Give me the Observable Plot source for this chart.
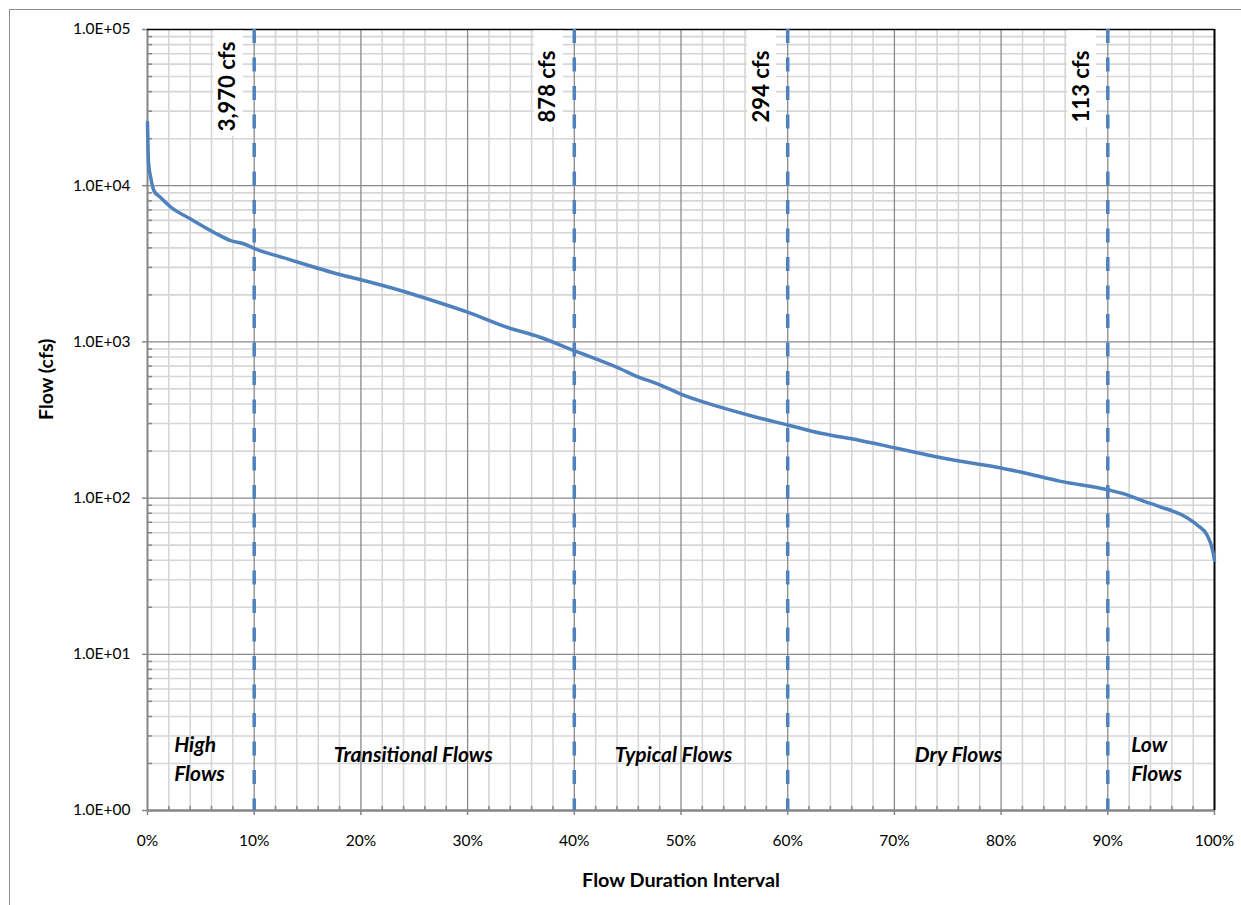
<!DOCTYPE html>
<html><head><meta charset="utf-8">
<script src="https://cdn.jsdelivr.net/npm/d3@7"></script>
<script src="https://cdn.jsdelivr.net/npm/@observablehq/plot@0.6"></script>
<style>
html,body{margin:0;padding:0;background:#fff;overflow:hidden;width:1241px;height:905px;}
#frame{position:absolute;left:9px;top:9px;width:1300px;height:1000px;border:1.5px solid #8e8e8e;box-sizing:border-box;}
#chart{position:absolute;left:0;top:0;}
</style></head><body><div id="frame"></div><div id="chart"></div>
<script>
// Flow duration curve (percent of time exceeded vs flow in cfs)
const pct  = [0, 0.1, 0.3, 0.6, 1.2, 2.2, 4.0, 6.2, 7.8, 9.0, 10, 13.1, 18.1, 20, 23.7, 26.5, 30, 33.7, 36.8, 40, 44.3, 45.9, 47.8, 50.1, 53.7, 56.8, 60, 63.1, 66.8, 70, 73.1, 76.2, 80, 81.8, 85.6, 90, 91.8, 93.1, 94.9, 97.1, 98.4, 99.3, 99.8, 100];
const flow = [25500, 13900, 11300, 9300, 8430, 7280, 6140, 5040, 4450, 4250, 3970, 3400, 2690, 2500, 2135, 1862, 1550, 1241, 1071, 878, 673, 600, 539, 460, 382, 333, 294, 260, 234, 210, 189, 172, 156, 147, 128, 113, 105, 97, 88, 77, 67, 58, 47, 40];

const thresholds = [10, 40, 60, 90];
const thresholdLabels = ["3,970 cfs", "878 cfs", "294 cfs", "113 cfs"];

const regionNames = ["High\nFlows", "Transitional Flows", "Typical Flows", "Dry Flows", "Low\nFlows"];
const regionX = [2.5, 24.9, 49.3, 76.0, 92.2];
const regionAlign = ["start", "middle", "middle", "middle", "start"];

const xTicks = [0, 10, 20, 30, 40, 50, 60, 70, 80, 90, 100];
const xTickLabels = ["0%", "10%", "20%", "30%", "40%", "50%", "60%", "70%", "80%", "90%", "100%"];
const xMinor = [2,4,6,8,12,14,16,18,22,24,26,28,32,34,36,38,42,44,46,48,52,54,56,58,62,64,66,68,72,74,76,78,82,84,86,88,92,94,96,98];
const yTicks = [1, 10, 100, 1000, 10000, 100000];
const yTickLabels = ["1.0E+00", "1.0E+01", "1.0E+02", "1.0E+03", "1.0E+04", "1.0E+05"];
const yMinor = [];
for (const d of [1, 10, 100, 1000, 10000]) for (let k = 2; k <= 9; k++) yMinor.push(k * d);

const data = pct.map((p, i) => ({pct: p, flow: flow[i]}));
const thr = thresholds.map((t, i) => ({t, label: thresholdLabels[i]}));
const regions = regionNames.map((n, i) => ({name: n, x: regionX[i], align: regionAlign[i]}));

const blue = "#4F81BD";
const font = "Lato, 'Open Sans', sans-serif";
const labelDx = -26, labelDy = 57;
const plotTop = 29;

const chart = Plot.plot({
  width: 1241, height: 905,
  marginLeft: 147, marginRight: 27, marginTop: plotTop, marginBottom: 95,
  style: {fontFamily: font, fontSize: "15.5px", color: "#000", background: "transparent"},
  x: {domain: [0, 100]},
  y: {type: "log", domain: [1, 100000]},
  marks: [
    Plot.ruleX(xMinor, {stroke: "#d6d6d6", strokeWidth: 1.6}),
    Plot.ruleY(yMinor, {stroke: "#d6d6d6", strokeWidth: 1.6}),
    Plot.ruleX(xTicks.slice(1, -1), {stroke: "#8a8a8a", strokeWidth: 1.3}),
    Plot.ruleY(yTicks.slice(1, -1), {stroke: "#8a8a8a", strokeWidth: 1.3}),
    // axes
    Plot.axisY(yTicks, {anchor: "left", tickSize: 5, tickPadding: 12, tickFormat: d => yTickLabels[yTicks.indexOf(d)], stroke: "#868686", strokeWidth: 1.5, fontSize: 15.5, label: null}),
    Plot.axisY(yMinor, {anchor: "left", tickSize: -5, tickFormat: () => "", stroke: "#868686", strokeWidth: 1.5, label: null}),
    Plot.axisX(xTicks, {anchor: "bottom", tickSize: 5, tickPadding: 19, tickFormat: d => xTickLabels[xTicks.indexOf(d)], stroke: "#868686", strokeWidth: 1.5, fontSize: 15.5, label: null}),
    Plot.axisX(xMinor, {anchor: "bottom", tickSize: -4, tickFormat: () => "", stroke: "#868686", strokeWidth: 1.5, label: null}),
    Plot.ruleX([0], {stroke: "#868686", strokeWidth: 2}),
    Plot.ruleY([1], {stroke: "#868686", strokeWidth: 2.5}),
    Plot.ruleY([100000], {stroke: "#000", strokeWidth: 1.5}),
    Plot.ruleX([100], {stroke: "#000", strokeWidth: 2}),
    // threshold lines
    Plot.ruleX(thr, {x: "t", stroke: blue, strokeWidth: 3.5, strokeDasharray: "14,14.5"}),
    // flow curve
    Plot.line(data, {x: "pct", y: "flow", stroke: blue, strokeWidth: 3.5, curve: "monotone-x"}),
    // threshold labels
    Plot.text(thr, {x: "t", text: "label", frameAnchor: "top", rotate: -90, dx: labelDx, dy: labelDy, fontSize: 22, fontWeight: "bold", textAnchor: "middle", lineAnchor: "middle", fill: "#000"}),
    // region labels
    Plot.text(regions.filter(d => d.align === "start"), {x: "x", text: "name", frameAnchor: "bottom", dy: -53, textAnchor: "start", lineAnchor: "middle", lineHeight: 1.35, fontSize: 21, fontWeight: "bold", fontStyle: "italic", fill: "#000"}),
    Plot.text(regions.filter(d => d.align === "middle"), {x: "x", text: "name", frameAnchor: "bottom", dy: -55, textAnchor: "middle", lineAnchor: "middle", fontSize: 21, fontWeight: "bold", fontStyle: "italic", fill: "#000"}),
    // axis titles
    Plot.text(["Flow Duration Interval"], {frameAnchor: "bottom", dy: 70, fontSize: 19.8, fontWeight: "bold", lineAnchor: "middle", fill: "#000"}),
    Plot.text(["Flow (cfs)"], {frameAnchor: "left", dx: -101, rotate: -90, fontSize: 19.5, fontWeight: "bold", lineAnchor: "middle", fill: "#000"})
  ]
});
document.getElementById("chart").appendChild(chart);

// white label boxes behind threshold labels (Excel text boxes)
const xs = chart.scale("x");
chart.querySelectorAll("text").forEach(t => {
  const i = thresholdLabels.indexOf(t.textContent);
  if (i < 0) return;
  const L = t.getComputedTextLength();
  const cx = xs.apply(thresholds[i]) + labelDx;
  const cy = plotTop + labelDy;
  const r = document.createElementNS("http://www.w3.org/2000/svg", "rect");
  r.setAttribute("x", cx - 14);
  r.setAttribute("y", plotTop + 1.5);
  r.setAttribute("width", 29);
  r.setAttribute("height", cy + L / 2 + 5 - plotTop - 1.5);
  r.setAttribute("fill", "#fff");
  const g = t.closest("g[aria-label='text']") || t.parentNode;
  g.parentNode.insertBefore(r, g);
});
</script></body></html>
